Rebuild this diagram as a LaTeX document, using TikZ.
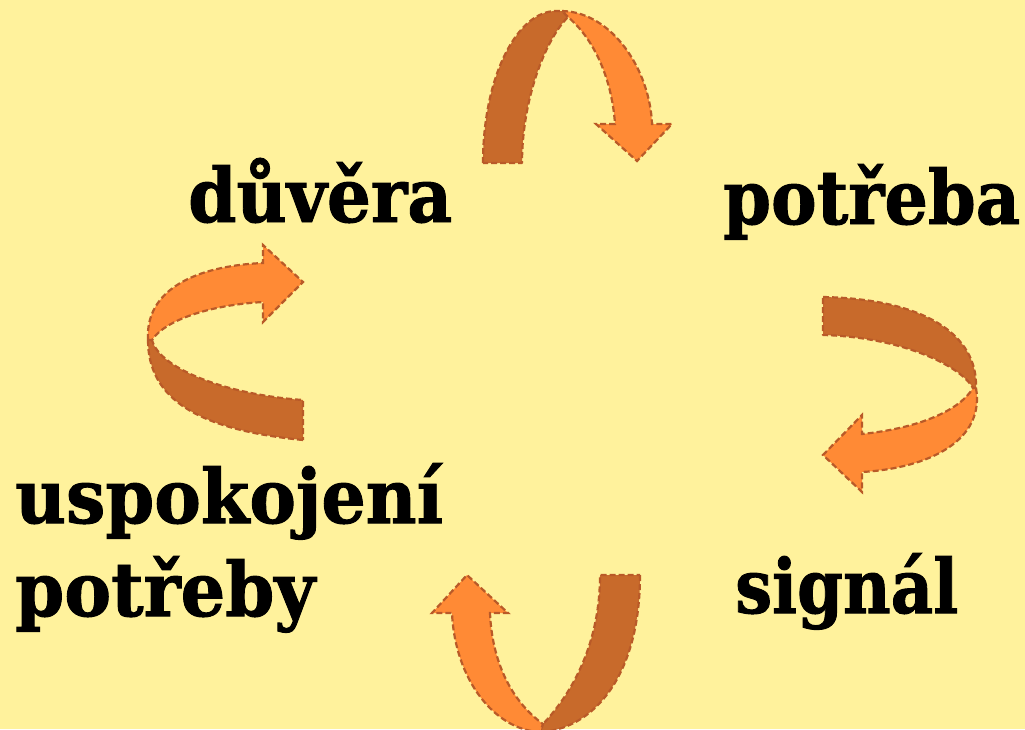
\documentclass[tikz,border=0pt]{standalone}
\usepackage{fontspec}
\setmainfont{DejaVu Serif}
\newfontfamily\wordfont{DejaVu Serif}[UprightFont={* Bold}, UprightFeatures={FakeBold=1.3}]
\usepackage{graphicx}
\definecolor{bgyellow}{HTML}{FFF29C}
\definecolor{darkor}{HTML}{C86A2B}
\definecolor{lightor}{HTML}{FF8A35}
\definecolor{edgeor}{HTML}{B95A28}
\tikzset{
  bandback/.style={fill=darkor, draw=edgeor, line width=2.2pt, dash pattern=on 6pt off 3pt, line join=round},
  bandfront/.style={fill=lightor, draw=edgeor, line width=2.2pt, dash pattern=on 6pt off 3pt, line join=miter},
  word/.style={inner sep=0pt, anchor=base west, font=\wordfont\fontsize{75}{80}\selectfont}
}
\newcommand{\wfit}[2]{\resizebox{#1}{\height}{#2}}
\begin{document}
\begin{tikzpicture}[x=1pt,y=-1pt]
\fill[bgyellow] (0,0) rectangle (1025,729);
\useasboundingbox (0,0) rectangle (1025,729);
\clip (0,0) rectangle (1025,729);

% words
\node[word] (duvera) at (188,222) {\wfit{264pt}{důvěra}};
\node[word] (potreba) at (723,224) {\wfit{297pt}{potřeba}};
\node[word] (signal) at (735,613) {\wfit{223pt}{signál}};
\node[word] (uspok) at (15,523) {\wfit{428pt}{uspokojení}};
\node[word] (potreby) at (15,616) {\wfit{300pt}{potřeby}};

% top arrow
\path[bandback] (483,163) .. controls (483,75) and (518,11) .. (556,11)
  -- (563,11) -- (568,17) .. controls (545,40) and (522,100) .. (522,163) -- cycle;
\path[bandfront] (562,11) .. controls (612,12) and (650,70) .. (652,124)
  -- (672,124) -- (637,161) -- (596,124) -- (615,124)
  .. controls (612,80) and (595,40) .. (568,17) -- cycle;

% right arrow
\path[bandback] (823,297) .. controls (925,299) and (978,335) .. (976,388)
  -- (973,388) .. controls (960,365) and (900,337) .. (823,335) -- cycle;
\path[bandfront] (976,388) .. controls (985,440) and (930,468) .. (862,472)
  -- (862,492) -- (823,455) -- (862,415) -- (862,434)
  .. controls (920,428) and (960,410) .. (973,388) -- cycle;

% left arrow
\path[bandback] (303,440) .. controls (200,430) and (148,400) .. (148,340)
  -- (152,340) .. controls (160,370) and (230,395) .. (303,400) -- cycle;
\path[bandfront] (148,340) .. controls (145,290) and (195,266) .. (263,263)
  -- (263,245) -- (303,282) -- (263,322) -- (263,302)
  .. controls (210,305) and (165,320) .. (152,340) -- cycle;

% bottom arrow
\path[bandback] (640,575) .. controls (640,680) and (590,730) .. (540,732)
  -- (543,724) .. controls (575,690) and (600,640) .. (600,575) -- cycle;
\path[bandfront] (540,732) .. controls (495,730) and (455,680) .. (452,613)
  -- (432,613) -- (467,575) -- (508,613) -- (490,613)
  .. controls (492,660) and (510,700) .. (543,724) -- cycle;
\end{tikzpicture}
\end{document}
